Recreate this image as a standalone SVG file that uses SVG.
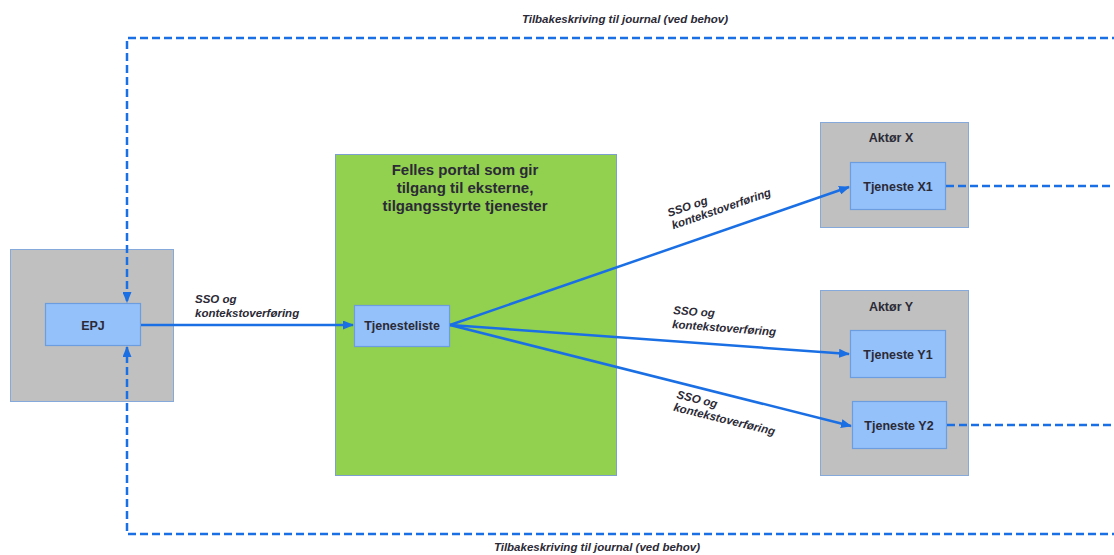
<svg xmlns="http://www.w3.org/2000/svg" width="1114" height="555" viewBox="0 0 1114 555">
<style>
.gray{fill:#c0c0c0;stroke:#86a9dc;stroke-width:1}
.box{fill:#95c1fb;stroke:#6b9ddf;stroke-width:1.2}
.green{fill:#92d050;stroke:#7d9fcf;stroke-width:1}
.lbl{font-family:"Liberation Sans",Arial,sans-serif;font-weight:bold;fill:#2b2a36;text-anchor:middle}
.node{font-size:12.5px}
.title{font-size:15px}
.it{font-family:"Liberation Sans",Arial,sans-serif;font-weight:bold;font-style:italic;fill:#2b2a36;font-size:11.5px}
.solid{fill:none;stroke:#1b6fe4;stroke-width:2.5}
.dash{fill:none;stroke:#1b6fe4;stroke-width:2.5;stroke-dasharray:8 4}
</style>
<defs>
<marker id="ah" markerUnits="userSpaceOnUse" markerWidth="11" markerHeight="9" refX="10" refY="4.5" orient="auto">
<path d="M0,0 L11,4.5 L0,9 z" fill="#1b6fe4"/>
</marker>
</defs>
<rect width="1114" height="555" fill="#ffffff"/>

<g id="epj-actor"><rect class="gray" x="10.5" y="249.5" width="163" height="152"/></g>
<g id="portal">
<rect class="green" x="335.5" y="154.5" width="281" height="321"/>
<text class="lbl title" x="465" y="175">Felles portal som gir</text>
<text class="lbl title" x="465" y="193">tilgang til eksterne,</text>
<text class="lbl title" x="465" y="211">tilgangsstyrte tjenester</text>
</g>
<g id="aktor-x">
<rect class="gray" x="820.5" y="122.5" width="148" height="105"/>
<text class="lbl node" x="891" y="142">Aktør X</text>
</g>
<g id="aktor-y">
<rect class="gray" x="820.5" y="290.5" width="148" height="185"/>
<text class="lbl node" x="891" y="311">Aktør Y</text>
</g>
<g id="epj">
<rect class="box" x="45.5" y="303.5" width="95" height="42"/>
<text class="lbl node" x="93" y="330">EPJ</text>
</g>
<g id="tjenesteliste">
<rect class="box" x="354.5" y="305.5" width="95" height="41"/>
<text class="lbl node" x="402" y="330">Tjenesteliste</text>
</g>
<g id="tjeneste-x1">
<rect class="box" x="850.5" y="162.5" width="95" height="47"/>
<text class="lbl node" x="898" y="191">Tjeneste X1</text>
</g>
<g id="tjeneste-y1">
<rect class="box" x="850.5" y="330.5" width="95" height="47"/>
<text class="lbl node" x="898" y="359">Tjeneste Y1</text>
</g>
<g id="tjeneste-y2">
<rect class="box" x="852.5" y="401.5" width="94" height="47"/>
<text class="lbl node" x="899" y="430">Tjeneste Y2</text>
</g>

<g id="connectors">
<path class="dash" d="M1120,38 H127 V302" marker-end="url(#ah)"/>
<path class="dash" d="M1120,534 H127 V347" marker-end="url(#ah)"/>
<path class="dash" d="M946,186 H1120"/>
<path class="dash" d="M947,425 H1120"/>
<path class="solid" d="M141,325 L353,325" marker-end="url(#ah)"/>
<path class="solid" d="M450,325 L849,187" marker-end="url(#ah)"/>
<path class="solid" d="M450,325 L849,354" marker-end="url(#ah)"/>
<path class="solid" d="M450,325 L851,426" marker-end="url(#ah)"/>
</g>

<g id="labels">
<text class="it" x="625" y="23" text-anchor="middle">Tilbakeskriving til journal (ved behov)</text>
<text class="it" x="597" y="551" text-anchor="middle">Tilbakeskriving til journal (ved behov)</text>
<text class="it" x="195" y="303">SSO og</text>
<text class="it" x="195" y="317">kontekstoverføring</text>
<g transform="translate(669,217) rotate(-19)">
<text class="it" x="0" y="0">SSO og</text>
<text class="it" x="0" y="13">kontekstoverføring</text>
</g>
<g transform="translate(673,314) rotate(4.3)">
<text class="it" x="0" y="0">SSO og</text>
<text class="it" x="0" y="14">kontekstoverføring</text>
</g>
<g transform="translate(676,398) rotate(13.8)">
<text class="it" x="0" y="0">SSO og</text>
<text class="it" x="0" y="13">kontekstoverføring</text>
</g>
</g>
</svg>
